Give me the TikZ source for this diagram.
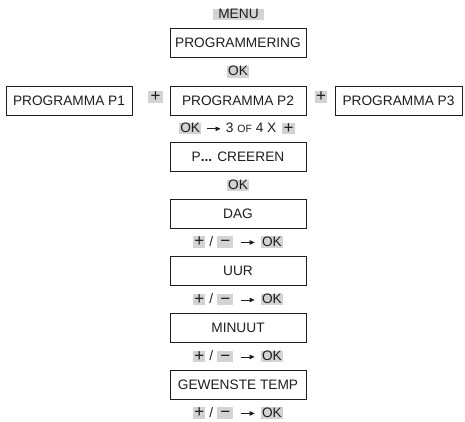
\documentclass[tikz,border=0pt]{standalone}
\usepackage{fontspec}
\setmainfont{Liberation Sans}
\usetikzlibrary{arrows.meta}
\definecolor{keygray}{HTML}{D3D3D3}
\definecolor{ink}{HTML}{1E1E1E}
\newcommand\gb[2][1pt]{{\setlength\fboxsep{0pt}\colorbox{keygray}{\hspace{#1}\rule[-1.8pt]{0pt}{11.4pt}#2\hspace{#1}}}}
\newcommand\kplus{\raisebox{-0.8pt}{\fontsize{17}{17}\selectfont +}}
\newcommand\kminus{\raisebox{-0.8pt}{\fontsize{17}{17}\selectfont −}}
\newcommand\karr{\tikz[baseline=0pt]\draw[ink,line width=0.9pt,-{Triangle[length=5pt,width=4.5pt]}] (0pt,3.6pt) -- (14pt,3.6pt);}
\newcommand\pmok{\gb[1.2pt]{\kplus}\hspace{4pt}/\hspace{4pt}\gb[3pt]{\kminus}\hspace{7pt}\karr\hspace{6pt}\gb{OK}}
\begin{document}
\begin{tikzpicture}[x=1pt,y=-1pt,
  every node/.style={text=ink,font=\fontsize{13.7}{16}\selectfont},
  box/.style={draw=ink,line width=1pt,minimum width=136pt,minimum height=29pt,inner sep=0pt},
  lab/.style={inner sep=0pt}]
\useasboundingbox (0,0) rectangle (465,421);
\node[lab] (menu) at (238.5,14.5) {\gb[5pt]{MENU}};
\node[box] (prog) at (238,42.5) {PROGRAMMERING};
\node[lab] (ok1) at (238,72) {\gb{OK}};
\node[box,minimum width=126pt] (p1) at (69,100.5) {PROGRAMMA P1};
\node[lab] (plus1) at (155.5,97) {\gb[2.5pt]{\kplus}};
\node[box] (p2) at (238,100.5) {PROGRAMMA P2};
\node[lab] (plus2) at (321,97) {\gb[1.5pt]{\kplus}};
\node[box,minimum width=127pt] (p3) at (398.5,100.5) {PROGRAMMA P3};
\node[lab] (rep) at (237,128.5) {\gb{OK}\hspace{5pt}\karr\hspace{5pt}3 {\fontsize{10.5}{12}\selectfont OF} 4 X\hspace{6pt}\gb[1.2pt]{\kplus}};
\node[box] (cre) at (238,157) {P{\bfseries...} CREEREN};
\node[lab] (ok2) at (238,185.5) {\gb{OK}};
\node[box] (dag) at (238,214) {DAG};
\node[lab] (l3) at (238,242) {\pmok};
\node[box] (uur) at (238,271) {UUR};
\node[lab] (l4) at (238,299.5) {\pmok};
\node[box] (min) at (238,328) {MINUUT};
\node[lab] (l5) at (238,356.5) {\pmok};
\node[box] (temp) at (238,385) {GEWENSTE TEMP};
\node[lab] (l6) at (238,413) {\pmok};
\end{tikzpicture}
\end{document}
